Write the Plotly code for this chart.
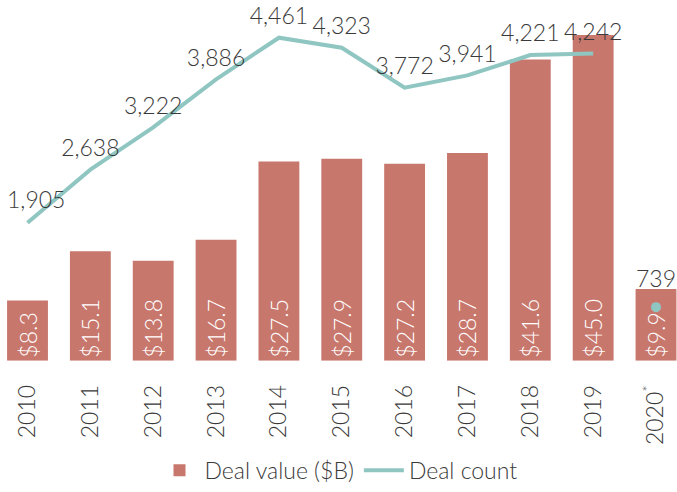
import plotly.graph_objects as go

years = ["2010", "2011", "2012", "2013", "2014", "2015", "2016", "2017", "2018", "2019", "2020<sup>*</sup>"]
deal_value = [8.3, 15.1, 13.8, 16.7, 27.5, 27.9, 27.2, 28.7, 41.6, 45.0, 9.9]
deal_count = [1905, 2638, 3222, 3886, 4461, 4323, 3772, 3941, 4221, 4242]
partial_year_count = [739]

BAR = "#C8776D"
TEAL = "#8FC6C1"
TXT = "#3a3a3a"
FONT = "Lato"
FS = 23
CLEAR = "rgba(0,0,0,0)"


def lato(color=TXT, size=FS):
    return dict(color=color, size=size, family=FONT, weight=300)


count_labels = [f"{v:,}" for v in deal_count]
# the first label is drawn as an annotation, nudged right to stay on the page
first_label = count_labels[0]
count_labels[0] = ""

fig = go.Figure()

fig.add_trace(go.Bar(
    x=years, y=deal_value, name="Deal value ($B)",
    marker=dict(color=BAR, line=dict(width=0)),
    text=[f"${v:.1f}" for v in deal_value],
    textposition="inside", insidetextanchor="start", textangle=-90,
    insidetextfont=lato("white"),
    constraintext="none",
))

# transparent markers only push the count labels up off the line
fig.add_trace(go.Scatter(
    x=years[:len(deal_count)], y=deal_count, name="Deal count",
    mode="lines+markers+text", yaxis="y2",
    line=dict(color=TEAL, width=4),
    marker=dict(color=CLEAR, size=11),
    text=count_labels, textposition="top center",
    textfont=lato(), cliponaxis=False,
))

# 2020 partial-year count: dot plus its label
fig.add_trace(go.Scatter(
    x=years[-1:], y=partial_year_count, mode="markers", yaxis="y2",
    marker=dict(color=TEAL, size=10),
    showlegend=False, cliponaxis=False, hoverinfo="skip",
))
fig.add_trace(go.Scatter(
    x=years[-1:], y=partial_year_count, mode="markers+text", yaxis="y2",
    marker=dict(color=CLEAR, size=21),
    text=[f"{v:,}" for v in partial_year_count], textposition="top center",
    textfont=lato(), showlegend=False, cliponaxis=False,
))

# category index 0 is the first year on the x axis
fig.add_annotation(
    x=0, y=deal_count[0], xref="x", yref="y2",
    text=first_label, showarrow=False, font=lato(),
    xanchor="center", yanchor="bottom", xshift=8, yshift=8,
)

H = 492
PLOT_BOTTOM = 372  # pixel row of the bar baseline

fig.update_layout(
    width=677, height=H,
    margin=dict(l=0, r=0, t=0, b=0),
    paper_bgcolor="white", plot_bgcolor="white",
    font=lato(),
    bargap=0.35,
    xaxis=dict(type="category", range=[-0.4376, 10.334], tickangle=-90, showgrid=False,
               zeroline=False, showline=False, ticks="outside", ticklen=14, tickcolor="white",
               tickfont=lato(), automargin=False),
    yaxis=dict(range=[0, 49.82], visible=False, domain=[(H - PLOT_BOTTOM) / H, 1]),
    yaxis2=dict(range=[0, 4982], overlaying="y", visible=False),
    legend=dict(orientation="h", x=0.5, xanchor="center", y=(H - 485) / H, yanchor="middle",
                font=lato(), itemwidth=40),
)

fig.write_html("out.html")
